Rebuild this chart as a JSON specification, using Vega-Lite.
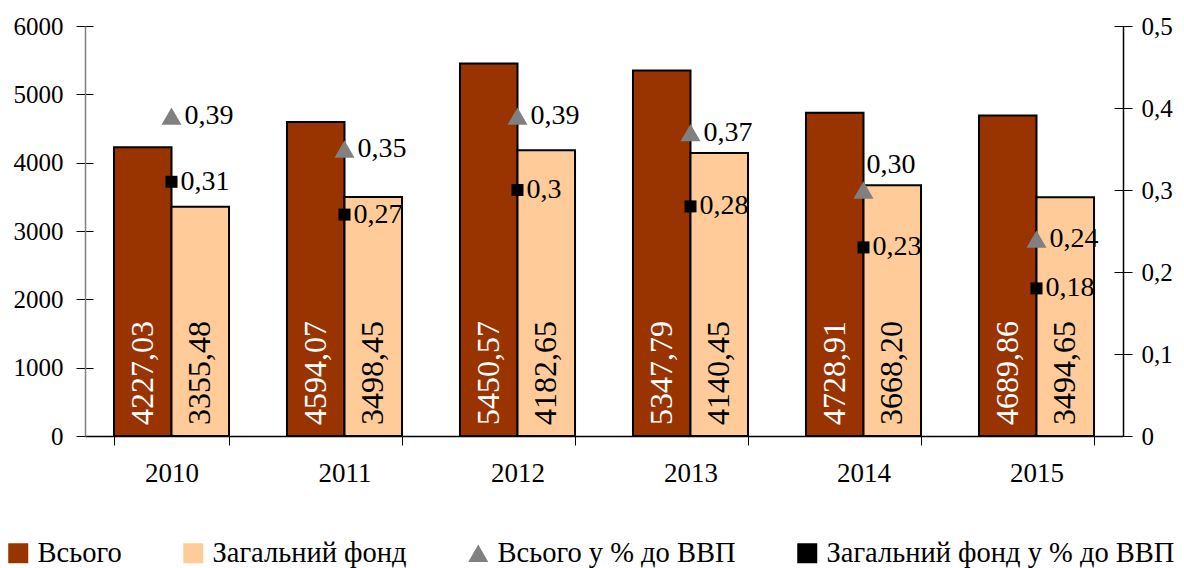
{
  "$schema": "https://vega.github.io/schema/vega-lite/v6.json",
  "width": 1038,
  "height": 410,
  "autosize": {"type": "none"},
  "padding": {"left": 85, "top": 26, "right": 61, "bottom": 132},
  "background": "white",
  "config": {
    "view": {"stroke": null},
    "font": "Liberation Serif",
    "axis": {"grid": false, "labelColor": "black", "title": null, "labelFont": "Liberation Serif"},
    "legend": {"labelFont": "Liberation Serif"},
    "text": {"font": "Liberation Serif"}
  },
  "datasets": {
    "bars": [
      {"year": "2010", "series": "Всього", "value": 4227.03, "label": "4227,03"},
      {"year": "2010", "series": "Загальний фонд", "value": 3355.48, "label": "3355,48"},
      {"year": "2011", "series": "Всього", "value": 4594.07, "label": "4594,07"},
      {"year": "2011", "series": "Загальний фонд", "value": 3498.45, "label": "3498,45"},
      {"year": "2012", "series": "Всього", "value": 5450.57, "label": "5450,57"},
      {"year": "2012", "series": "Загальний фонд", "value": 4182.65, "label": "4182,65"},
      {"year": "2013", "series": "Всього", "value": 5347.79, "label": "5347,79"},
      {"year": "2013", "series": "Загальний фонд", "value": 4140.45, "label": "4140,45"},
      {"year": "2014", "series": "Всього", "value": 4728.91, "label": "4728,91"},
      {"year": "2014", "series": "Загальний фонд", "value": 3668.20, "label": "3668,20"},
      {"year": "2015", "series": "Всього", "value": 4689.86, "label": "4689,86"},
      {"year": "2015", "series": "Загальний фонд", "value": 3494.65, "label": "3494,65"}
    ],
    "pct": [
      {"year": "2010", "series": "Всього у % до ВВП", "value": 0.39, "label": "0,39"},
      {"year": "2010", "series": "Загальний фонд у % до ВВП", "value": 0.31, "label": "0,31"},
      {"year": "2011", "series": "Всього у % до ВВП", "value": 0.35, "label": "0,35"},
      {"year": "2011", "series": "Загальний фонд у % до ВВП", "value": 0.27, "label": "0,27"},
      {"year": "2012", "series": "Всього у % до ВВП", "value": 0.39, "label": "0,39"},
      {"year": "2012", "series": "Загальний фонд у % до ВВП", "value": 0.30, "label": "0,3"},
      {"year": "2013", "series": "Всього у % до ВВП", "value": 0.37, "label": "0,37"},
      {"year": "2013", "series": "Загальний фонд у % до ВВП", "value": 0.28, "label": "0,28"},
      {"year": "2014", "series": "Всього у % до ВВП", "value": 0.30, "label": "0,30"},
      {"year": "2014", "series": "Загальний фонд у % до ВВП", "value": 0.23, "label": "0,23"},
      {"year": "2015", "series": "Всього у % до ВВП", "value": 0.24, "label": "0,24"},
      {"year": "2015", "series": "Загальний фонд у % до ВВП", "value": 0.18, "label": "0,18"}
    ]
  },
  "encoding": {
    "x": {
      "field": "year",
      "type": "nominal",
      "scale": {"paddingInner": 0.335, "paddingOuter": 0.1675},
      "axis": {
        "labelAngle": 0,
        "labelFont": "Liberation Serif",
        "labelFontSize": 27,
        "labelPadding": 15,
        "tickBand": "extent",
        "tickSize": 9,
        "tickColor": "black",
        "domainColor": "black",
        "domainWidth": 1.5,
        "tickWidth": 1
      }
    }
  },
  "layer": [
    {
      "data": {"name": "bars"},
      "mark": {"type": "bar", "stroke": "black", "strokeWidth": 2},
      "encoding": {
        "xOffset": {"field": "series", "type": "nominal", "sort": ["Всього", "Загальний фонд"], "scale": {"paddingInner": 0, "paddingOuter": 0}},
        "y": {
          "field": "value",
          "type": "quantitative",
          "scale": {"domain": [0, 6000]},
          "axis": {
            "orient": "left",
            "values": [0, 1000, 2000, 3000, 4000, 5000, 6000],
            "format": "d",
            "labelFont": "Liberation Serif",
            "labelFontSize": 25,
            "offset": -8,
            "tickSize": 17,
            "labelPadding": 13,
            "tickColor": "black",
            "tickWidth": 1,
            "domain": false
          }
        },
        "color": {"condition": {"test": "datum.series === 'Всього'", "value": "#993300"}, "value": "#FFCC99"}
      }
    },
    {
      "data": {"name": "bars"},
      "mark": {"type": "text", "angle": 270, "align": "left", "baseline": "middle", "dx": 11, "fontSize": 32, "font": "Liberation Serif"},
      "encoding": {
        "xOffset": {"field": "series", "type": "nominal", "sort": ["Всього", "Загальний фонд"], "scale": {"paddingInner": 0, "paddingOuter": 0}},
        "y": {
          "datum": 0,
          "type": "quantitative",
          "scale": {"domain": [0, 6000]},
          "axis": {"orient": "left", "labels": false, "ticks": false, "domain": true, "domainColor": "#808080", "domainWidth": 1.5, "values": [0]}
        },
        "text": {"field": "label"},
        "color": {"condition": {"test": "datum.series === 'Всього'", "value": "white"}, "value": "black"}
      }
    },
    {
      "data": {"name": "pct"},
      "mark": {"type": "point", "filled": true, "opacity": 1, "strokeWidth": 0},
      "encoding": {
        "y": {
          "field": "value",
          "type": "quantitative",
          "scale": {"domain": [0, 0.5]},
          "axis": {
            "orient": "right",
            "values": [0, 0.1, 0.2, 0.3, 0.4, 0.5],
            "labelExpr": "replace(format(datum.value, '.1~f'), '.', ',')",
            "labelFont": "Liberation Serif",
            "labelFontSize": 25,
            "offset": -9,
            "tickSize": 18,
            "labelPadding": 9,
            "tickColor": "black",
            "tickWidth": 1,
            "domain": false
          }
        },
        "color": {
          "field": "series",
          "type": "nominal",
          "scale": {
            "domain": ["Всього", "Загальний фонд", "Всього у % до ВВП", "Загальний фонд у % до ВВП"],
            "range": ["#993300", "#FFCC99", "#808080", "#000000"]
          },
          "legend": {
            "title": null,
            "orient": "none",
            "legendX": -81,
            "legendY": 513,
            "direction": "horizontal",
            "columns": 4,
            "columnPadding": 57,
            "gridAlign": "none",
            "padding": 0,
            "labelFont": "Liberation Serif",
            "labelFontSize": 28.5,
            "labelColor": "black",
            "labelLimit": 500,
            "labelOffset": 5,
            "symbolSize": 400,
            "encode": {
              "symbols": {
                "update": {
                  "stroke": {"signal": "datum.value === 'Всього' || datum.value === 'Загальний фонд' ? 'black' : 'transparent'"},
                  "strokeWidth": {"value": 2},
                  "size": {"signal": "datum.value === 'Всього у % до ВВП' ? 400 : datum.value === 'Загальний фонд у % до ВВП' ? 169 : 324"}
                }
              }
            }
          }
        },
        "shape": {
          "field": "series",
          "type": "nominal",
          "scale": {
            "domain": ["Всього", "Загальний фонд", "Всього у % до ВВП", "Загальний фонд у % до ВВП"],
            "range": ["square", "square", "triangle-up", "square"]
          },
          "legend": {
            "title": null,
            "orient": "none",
            "legendX": -81,
            "legendY": 513,
            "direction": "horizontal",
            "columns": 4,
            "columnPadding": 57,
            "gridAlign": "none",
            "padding": 0,
            "labelFont": "Liberation Serif",
            "labelFontSize": 28.5,
            "labelColor": "black",
            "labelLimit": 500,
            "labelOffset": 5,
            "symbolSize": 400,
            "encode": {
              "symbols": {
                "update": {
                  "stroke": {"signal": "datum.value === 'Всього' || datum.value === 'Загальний фонд' ? 'black' : 'transparent'"},
                  "strokeWidth": {"value": 2},
                  "size": {"signal": "datum.value === 'Всього у % до ВВП' ? 400 : datum.value === 'Загальний фонд у % до ВВП' ? 169 : 324"}
                }
              }
            }
          }
        },
        "size": {"condition": {"test": "datum.series === 'Всього у % до ВВП'", "value": 400}, "value": 144}
      }
    },
    {
      "data": {"name": "pct"},
      "transform": [{"filter": "datum.series === 'Всього у % до ВВП' && datum.year !== '2014'"}],
      "mark": {"type": "text", "align": "left", "baseline": "middle", "dx": 13, "fontSize": 28, "font": "Liberation Serif", "color": "black"},
      "encoding": {
        "y": {
          "field": "value",
          "type": "quantitative",
          "scale": {"domain": [0, 0.5]},
          "axis": {"orient": "right", "labels": false, "ticks": false, "domain": true, "domainColor": "black", "domainWidth": 1.5, "values": [0]}
        },
        "text": {"field": "label"}
      }
    },
    {
      "data": {"name": "pct"},
      "transform": [{"filter": "datum.series === 'Загальний фонд у % до ВВП'"}],
      "mark": {"type": "text", "align": "left", "baseline": "middle", "dx": 9, "fontSize": 28, "font": "Liberation Serif", "color": "black"},
      "encoding": {
        "y": {"field": "value", "type": "quantitative", "scale": {"domain": [0, 0.5]}, "axis": null},
        "text": {"field": "label"}
      }
    },
    {
      "data": {"name": "pct"},
      "transform": [{"filter": "datum.year === '2014' && datum.series === 'Всього у % до ВВП'"}],
      "mark": {"type": "text", "align": "left", "baseline": "middle", "dx": 3, "dy": -25, "fontSize": 28, "font": "Liberation Serif", "color": "black"},
      "encoding": {
        "y": {"field": "value", "type": "quantitative", "scale": {"domain": [0, 0.5]}, "axis": null},
        "text": {"field": "label"}
      }
    }
  ],
  "resolve": {"scale": {"y": "independent"}}
}
